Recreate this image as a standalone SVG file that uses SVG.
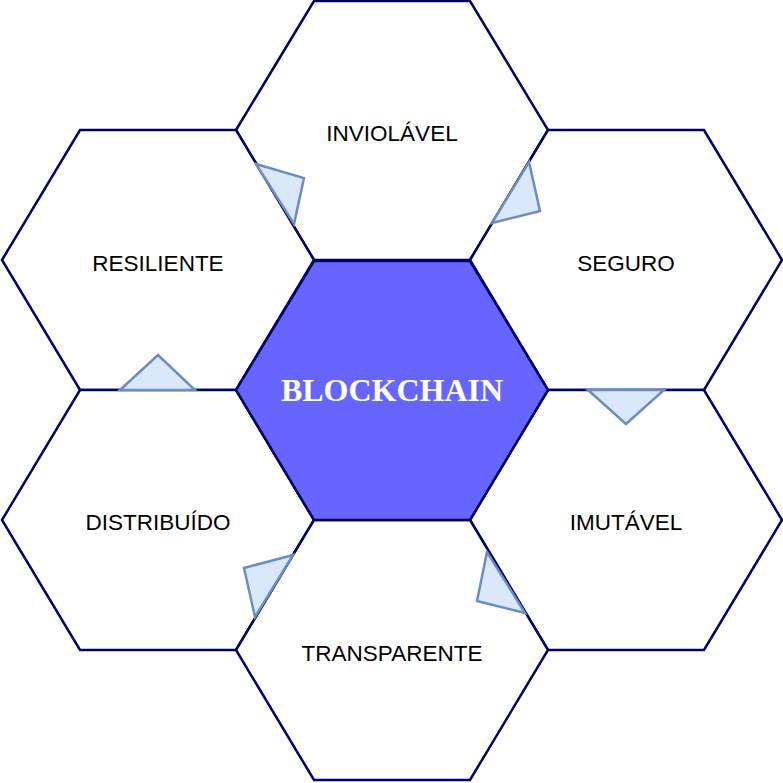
<svg xmlns="http://www.w3.org/2000/svg" width="783" height="783" viewBox="0 0 783 783">
<style>
.hex{fill:#ffffff;stroke:#000066;stroke-width:2.5;stroke-linejoin:miter}
.core{fill:#6666ff;stroke:#000066;stroke-width:2.5}
.lbl{font-family:"Liberation Sans",Arial,sans-serif;font-size:22.5px;fill:#000000;text-anchor:middle}
.title{font-family:"Liberation Serif","DejaVu Serif",serif;font-size:32px;font-weight:bold;fill:#ffffff;text-anchor:middle}
.tri{fill:#dae8fc;stroke:#6c8ebf;stroke-width:2.5;stroke-linejoin:miter}
</style>
<rect width="783" height="783" fill="#ffffff"/>
<g id="inviolavel">
<polygon class="hex" points="236,130 314,1 470,1 548,130 470,260 314,260"/>
<text class="lbl" x="392" y="141">INVIOLÁVEL</text>
</g>
<g id="resiliente">
<polygon class="hex" points="2,260 80,130 236,130 314,260 236,390 80,390"/>
<text class="lbl" x="158" y="271">RESILIENTE</text>
</g>
<g id="seguro">
<polygon class="hex" points="470,260 548,130 704,130 782,260 704,390 548,390"/>
<text class="lbl" x="626" y="271">SEGURO</text>
</g>
<g id="distribuido">
<polygon class="hex" points="2,520 80,390 236,390 314,520 236,650 80,650"/>
<text class="lbl" x="158" y="530">DISTRIBUÍDO</text>
</g>
<g id="imutavel">
<polygon class="hex" points="470,520 548,390 704,390 782,520 704,650 548,650"/>
<text class="lbl" x="626" y="530">IMUTÁVEL</text>
</g>
<g id="transparente">
<polygon class="hex" points="236,650 314,520 470,520 548,650 470,780 314,780"/>
<text class="lbl" x="392" y="661">TRANSPARENTE</text>
</g>
<g id="blockchain">
<polygon class="core" points="236,390 314,261 470,261 548,390 470,520 314,520"/>
<text class="title" x="392" y="401">BLOCKCHAIN</text>
</g>
<g id="connectors">
<polygon class="tri" points="256,164 304,178 294,224"/>
<polygon class="tri" points="529,162 540,211 492,223"/>
<polygon class="tri" points="120,390 158,355 195,390"/>
<polygon class="tri" points="588,390 664,390 626,424"/>
<polygon class="tri" points="293,555 244,568 255,617"/>
<polygon class="tri" points="487,552 477,601 525,613"/>
</g>
</svg>
